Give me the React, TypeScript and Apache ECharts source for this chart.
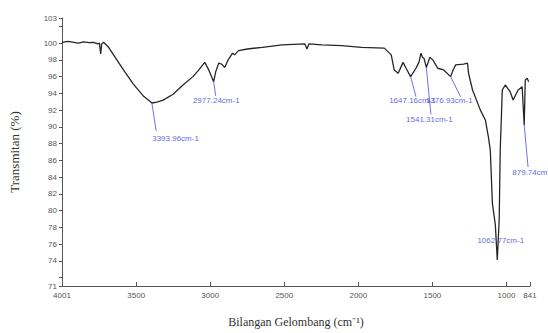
import React, { useEffect, useRef } from "react";
import * as echarts from "echarts";

const wavenumbers = [
  4001, 3960, 3921, 3890, 3854, 3820, 3787, 3760, 3748, 3740, 3733, 3720,
  3686, 3653, 3586, 3519, 3452, 3410, 3394, 3360, 3318, 3251, 3184, 3117,
  3077, 3037, 3010, 2977, 2963, 2943, 2923, 2903, 2876, 2849, 2836, 2809,
  2749, 2649, 2515, 2361, 2347, 2334, 2247, 2113, 1979, 1825, 1778, 1758,
  1731, 1698, 1678, 1647, 1611, 1591, 1577, 1567, 1557, 1541, 1517, 1497,
  1464, 1424, 1377, 1360, 1343, 1290, 1263, 1256, 1229, 1176, 1142, 1122,
  1109, 1095, 1075, 1062, 1049, 1042, 1028, 1008, 975, 955, 921, 894, 880,
  873, 860, 850,
];
const transmittance = [
  100.1, 100.2, 100.1, 100.0, 100.15, 100.05, 100.1, 99.9, 100.0, 98.7, 99.9,
  100.1, 99.5, 98.6, 96.8, 95.1, 93.7, 93.1, 92.85, 92.95, 93.2, 93.9, 95.0,
  96.0, 96.8, 97.7, 96.8, 95.4, 96.6, 97.6, 97.5, 97.1, 98.1, 98.8, 98.6,
  99.1, 99.3, 99.5, 99.8, 99.9, 99.3, 99.9, 99.8, 99.7, 99.5, 99.4, 98.6,
  96.8, 96.4, 97.7, 97.0, 96.0, 97.0, 97.7, 98.8, 98.3, 98.2, 97.1, 98.3,
  98.0, 97.0, 96.8, 96.0, 96.8, 97.4, 97.5, 97.6, 96.4, 94.4, 92.0, 90.8,
  88.8, 87.2, 80.9, 78.3, 74.1, 78.9, 87.2, 94.4, 95.0, 94.2, 93.2, 94.4,
  94.8, 90.2, 95.6, 95.8, 95.4,
];

const xLabelValues = [4001, 3500, 3000, 2500, 2000, 1500, 1000, 841];
const yLabelValues = [71, 74, 76, 78, 80, 82, 84, 86, 88, 90, 92, 94, 96, 98, 100, 103];
const yTickValues = [71, 72, 74, 76, 78, 80, 82, 84, 86, 88, 90, 92, 94, 96, 98, 100, 102, 103];

const peakNames = [
  "3393.96cm-1",
  "2977.24cm-1",
  "1647.16cm-1",
  "1541.31cm-1",
  "1376.93cm-1",
  "1062.77cm-1",
  "879.74cm",
];
const peakX = [3394, 2977, 1647, 1541, 1377, 1062, 880];
const peakY = [92.85, 95.4, 96.0, 97.1, 96.0, 74.1, 90.2];
const pointerEndX = [3365, 2963, 1611, 1510, 1310, 1062, 854];
const pointerEndY = [89.5, 93.7, 93.6, 91.5, 93.6, 74.1, 85.2];
const labelX = [3392, 3117, 1792, 1678, 1544, 1196, 961];
const labelY = [88.67, 93.1, 93.2, 90.9, 93.2, 76.4, 84.5];

export default function App() {
  const ref = useRef<HTMLDivElement>(null);
  useEffect(() => {
    if (!ref.current) return;
    const chart = echarts.init(ref.current, null, { renderer: "svg" });
    const axisColor = "#555";
    const labelFont = "Liberation Sans";
    const option: any = {
      animation: false,
      backgroundColor: "#fff",
      grid: { left: 58, right: 18, top: 18, bottom: 46, containLabel: false },
      xAxis: {
        type: "value",
        inverse: true,
        min: 841,
        max: 4001,
        name: "Bilangan Gelombang (cm\u207B\u00B9)",
        nameLocation: "middle",
        nameGap: 30,
        nameTextStyle: { fontFamily: "Liberation Serif", fontSize: 12, color: "#333" },
        axisLine: { show: true, lineStyle: { color: axisColor, width: 1 } },
        axisTick: { show: true, inside: true, length: 4, customValues: xLabelValues, lineStyle: { color: axisColor } },
        axisLabel: {
          customValues: xLabelValues,
          formatter: (v: number) => String(v),
          fontFamily: labelFont,
          fontSize: 8,
          color: "#555",
          margin: 5,
          showMinLabel: true,
          showMaxLabel: true,
        },
        splitLine: { show: false },
      },
      yAxis: {
        type: "value",
        min: 71,
        max: 103,
        name: "Transmitan (%)",
        nameLocation: "middle",
        nameGap: 41,
        nameTextStyle: { fontFamily: "Liberation Serif", fontSize: 13, color: "#333" },
        axisLine: { show: true, lineStyle: { color: axisColor, width: 1 } },
        axisTick: { show: true, inside: false, length: 3, customValues: yTickValues, lineStyle: { color: axisColor } },
        axisLabel: {
          customValues: yLabelValues,
          formatter: (v: number) => String(v),
          fontFamily: labelFont,
          fontSize: 8,
          color: "#555",
          margin: 5,
          showMinLabel: true,
          showMaxLabel: true,
        },
        splitLine: { show: false },
      },
      series: [
        {
          type: "line",
          data: wavenumbers.map((w, i) => [w, transmittance[i]]),
          showSymbol: false,
          symbol: "none",
          lineStyle: { color: "#262626", width: 1.3 },
          markLine: {
            silent: true,
            symbol: ["none", "none"],
            label: { show: false },
            lineStyle: { color: "#4a4ae0", width: 0.8, type: "solid" },
            data: peakX
              .map((x, i) => [
                { coord: [x, peakY[i]] },
                { coord: [pointerEndX[i], pointerEndY[i]] },
              ])
              .filter((_, i) => pointerEndX[i] !== peakX[i]),
          },
        },
        {
          type: "scatter",
          symbolSize: 0,
          silent: true,
          data: labelX.map((x, i) => ({ name: peakNames[i], value: [x, labelY[i]] })),
          label: {
            show: true,
            position: "right",
            distance: 0,
            formatter: (p: any) => p.name,
            fontFamily: labelFont,
            fontSize: 8,
            color: "#3a3ae0",
          },
        },
      ],
    };
    chart.setOption(option);
    return () => chart.dispose();
  }, []);
  return (
    <div
      ref={ref}
      style={{ position: "fixed", left: 0, top: 0, width: 548, height: 333 }}
    />
  );
}
